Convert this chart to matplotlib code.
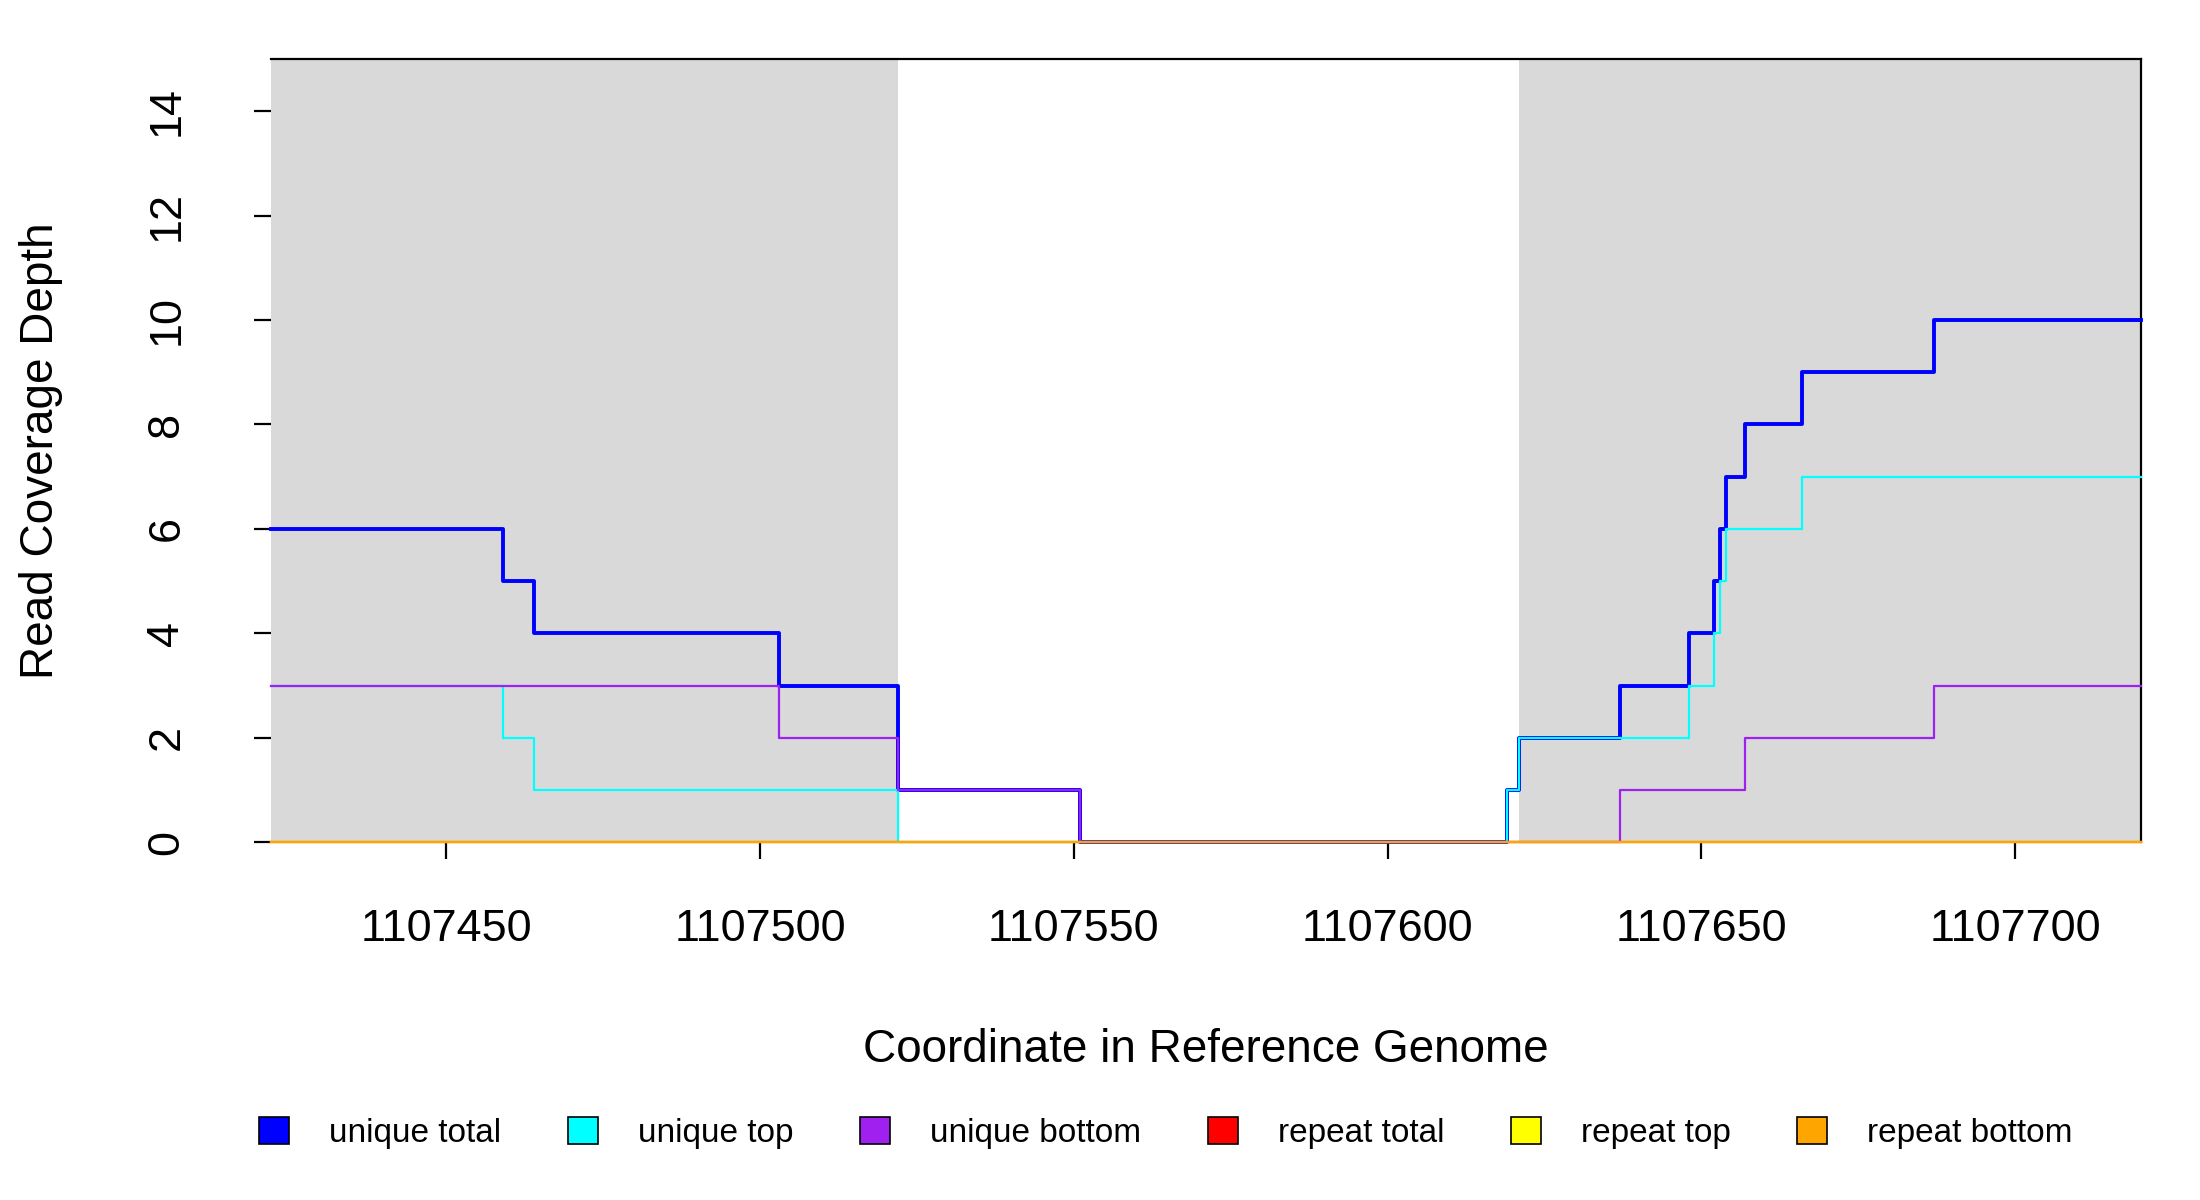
import matplotlib.pyplot as plt
from matplotlib.patches import Patch

plt.rcParams['font.family'] = ['Liberation Sans', 'DejaVu Sans']

# breakpoints (genome coordinate where each step starts)
pos = [1107422, 1107459, 1107464, 1107503, 1107522, 1107551, 1107619, 1107621,
       1107637, 1107648, 1107652, 1107653, 1107654, 1107657, 1107666, 1107687, 1107720]
unique_total = [6, 5, 4, 3, 1, 0, 1, 2, 3, 4, 5, 6, 7, 8, 9, 10, 10]
unique_top = [3, 2, 1, 1, 0, 0, 1, 2, 2, 3, 4, 5, 6, 6, 7, 7, 7]
unique_bottom = [3, 3, 3, 2, 1, 0, 0, 0, 1, 1, 1, 1, 1, 2, 2, 3, 3]
repeat_total = [0] * len(pos)
repeat_top = [0] * len(pos)
repeat_bottom = [0] * len(pos)

shaded = [(1107422, 1107522), (1107621, 1107720)]
xticks = [1107450, 1107500, 1107550, 1107600, 1107650, 1107700]

fig = plt.figure(figsize=(11, 6), dpi=200)
ax = fig.add_axes([0.123, 0.298, 0.85, 0.653])

for a, b in shaded:
    ax.axvspan(a, b, color='#d9d9d9', lw=0, zorder=0)

series = [
    ("unique total", unique_total, "blue", 1.4),
    ("unique top", unique_top, "cyan", 0.8),
    ("unique bottom", unique_bottom, "#a020f0", 0.8),
    ("repeat total", repeat_total, "red", 0.8),
    ("repeat top", repeat_top, "yellow", 0.8),
    ("repeat bottom", repeat_bottom, "orange", 0.8),
]
for name, vals, col, lw in series:
    ax.step(pos, vals, where='post', color=col, lw=lw, clip_on=False, zorder=3)

ax.set_xlim(1107422, 1107720)
ax.set_ylim(0, 15)
ax.set_yticks(range(0, 15, 2))
ax.set_xticks(xticks)
ax.set_xticklabels([str(t) for t in xticks])
ax.tick_params(labelsize=16.2, length=6, width=0.8)
ax.tick_params(axis='x', pad=18)
ax.tick_params(axis='y', pad=24)
for lab in ax.get_yticklabels():
    lab.set_rotation(90)
    lab.set_va('center')
ax.spines['bottom'].set_visible(False)
ax.spines['left'].set_visible(False)
ax.spines['top'].set_linewidth(0.8)
ax.spines['right'].set_linewidth(0.8)
ax.set_xlabel("Coordinate in Reference Genome", fontsize=16.5, labelpad=28)
ax.set_ylabel("Read Coverage Depth", fontsize=16.5, labelpad=30)

handles = [Patch(facecolor=c, edgecolor='black', lw=0.6) for _, _, c, _ in series]
fig.legend(handles, [s[0] for s in series], loc='center', bbox_to_anchor=(0.53, 0.056),
           ncol=6, frameon=False, fontsize=12, handlelength=0.9, handleheight=0.9,
           columnspacing=2.0, handletextpad=1.2)

fig.savefig("out.png")
